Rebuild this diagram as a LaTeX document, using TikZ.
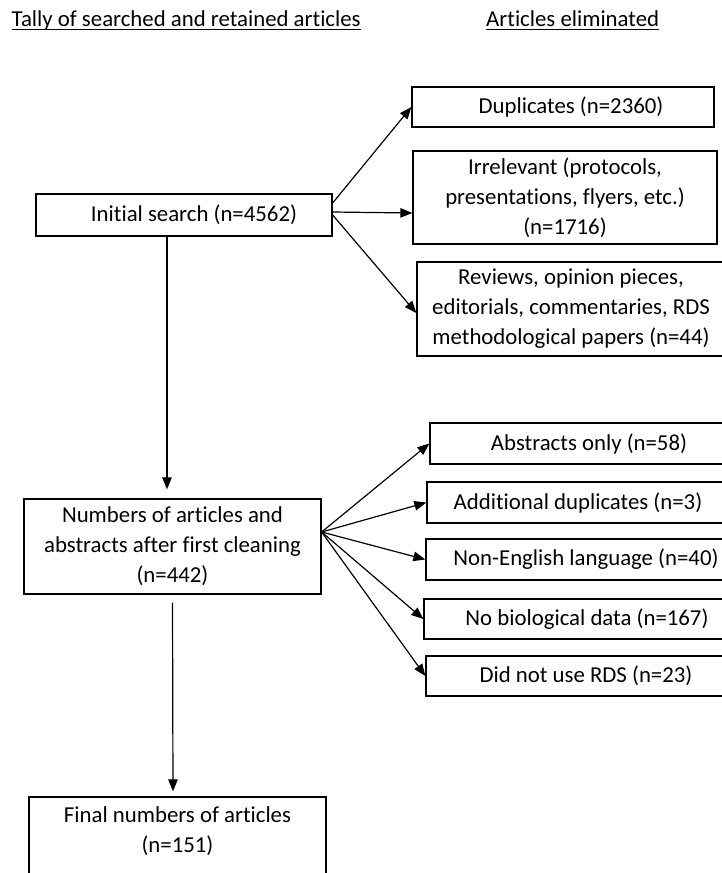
\documentclass[tikz,border=0pt]{standalone}
\usepackage{fontspec}
\setmainfont{Carlito}[Ligatures=NoCommon]
\usetikzlibrary{arrows.meta}

\tikzset{
	box/.style={draw, line width=1.3pt, inner sep=0pt, align=center, font=\fontsize{22.8}{30}\selectfont},
	arr/.style={-{Triangle[length=12pt,width=9.5pt]}, line width=1.2pt},
	head/.style={inner sep=0pt, anchor=base west, font=\fontsize{22.8}{30}\selectfont}
}

\begin{document}
\begin{tikzpicture}[x=1pt,y=-1pt]
				\useasboundingbox (0,0) rectangle (722,873);
				
				\node[head] (tally) at (11.5,26.5) {Tally of searched and retained articles};
				\node[head] (elim) at (486,26.5) {Articles eliminated};
				\draw[line width=1.2pt] ([yshift=-3pt]tally.base west) -- ([yshift=-3pt]tally.base east);
				\draw[line width=1.2pt] ([yshift=-3pt]elim.base west) -- ([yshift=-3pt]elim.base east);
				
				\node[box, minimum width=296, minimum height=42] (init) at (184,215) {\hspace*{20pt}Initial search (n=4562)};
				\node[box, minimum width=302, minimum height=40] (dup) at (563,107) {\hspace*{16pt}Duplicates (n=2360)};
				\node[box, minimum width=304, minimum height=93] (irr) at (565,197.5) {Irrelevant (protocols,\\presentations, flyers, etc.)\\(n=1716)};
				\node[box, minimum width=308, minimum height=94] (rev) at (571,309) {Reviews, opinion pieces,\\editorials, commentaries, RDS\\methodological papers (n=44)};
				
				\node[box, minimum width=297, minimum height=95] (clean) at (172.5,546.5) {Numbers of articles and\\abstracts after first cleaning\\(n=442)};
				\node[box, minimum width=318, minimum height=41] (abs) at (589,443.5) {Abstracts only (n=58)};
				\node[box, minimum width=302, minimum height=41] (adup) at (578,502.5) {Additional duplicates (n=3)};
				\node[box, minimum width=320, minimum height=41] (nonen) at (586,559.5) {Non-English language (n=40)};
				\node[box, minimum width=326, minimum height=40] (nobio) at (587,619) {No biological data (n=167)};
				\node[box, minimum width=320, minimum height=40] (rds) at (586,676) {Did not use RDS (n=23)};
				
				\node[box, minimum width=297, minimum height=105] (final) at (177.5,849.5) {Final numbers of articles\\(n=151)\\\strut};
				
				\draw[arr] ([yshift=12pt]init.east) -- (dup.west);
				\draw[arr] ([yshift=3pt]init.east) -- ([yshift=-15.5pt]irr.west);
				\draw[arr] (init.east) -- ([yshift=-4pt]rev.west);
				\draw[arr] ([xshift=-17pt]init.south) -- ([xshift=-5.5pt,yshift=9pt]clean.north);
				
				\draw[arr] ([yshift=14.5pt]clean.east) -- (abs.west);
				\draw[arr] ([yshift=14.5pt]clean.east) -- (adup.west);
				\draw[arr] ([yshift=14.5pt]clean.east) -- (nonen.west);
				\draw[arr] ([yshift=14.5pt]clean.east) -- (nobio.west);
				\draw[arr] ([yshift=14.5pt]clean.east) -- (rds.west);
				\draw[arr] ([yshift=-8pt]clean.south) -- ([xshift=-4.5pt,yshift=5pt]final.north);
			\end{tikzpicture}
\end{document}
